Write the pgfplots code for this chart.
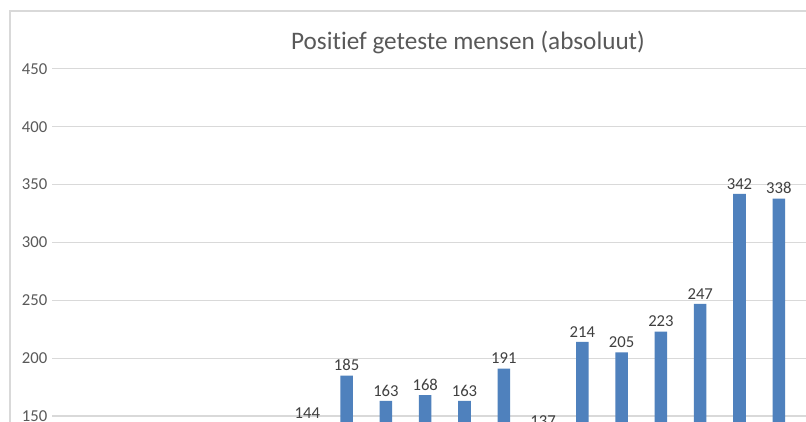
\documentclass[border=0pt]{standalone}
\usepackage{pgfplots}
\pgfplotsset{compat=1.18}
\usepackage{fontspec}
\setmainfont[Ligatures=NoCommon]{Carlito}
\definecolor{barblue}{HTML}{4F81BD}
\definecolor{gridgray}{HTML}{D9D9D9}
\definecolor{ticktext}{HTML}{595959}
\definecolor{labeltext}{HTML}{404040}
\begin{document}
\begin{tikzpicture}[x=0.75pt,y=0.75pt]
\clip (0,0) rectangle (806,421);
\fill[white] (0,0) rectangle (806,421);
\draw[gridgray, line width=0.8pt] (10,-50) -- (10,410) -- (900,410);
\node[font=\fontsize{18.9}{22}\selectfont, text=ticktext] at (468,379) {Positief geteste mensen (absoluut)};
\begin{axis}[
  at={(52pt*0.75,-168.5pt*0.75)}, anchor=south west,
  scale only axis,
  width=618.75pt, height=390.4pt,
  xmin=-0.5, xmax=20.5,
  ymin=0, ymax=450,
  ytick={0,50,...,450},
  xtick=\empty,
  ymajorgrids,
  grid style={gridgray, line width=0.8pt},
  axis line style={draw=none},
  major tick length=0pt,
  /pgf/number format/assume math mode=true,
  yticklabel style={font=\fontsize{12.5}{14}\selectfont, text=ticktext},
  ybar, bar width=9.4pt,
  nodes near coords,
  every node near coord/.append style={font=\fontsize{12.5}{14}\selectfont, text=labeltext},
  clip=false,
]
\addplot[fill=barblue, draw=none] coordinates {
  (6,144) (7,185) (8,163) (9,168) (10,163) (11,191) (12,137)
  (13,214) (14,205) (15,223) (16,247) (17,342) (18,338)
};
\end{axis}
\end{tikzpicture}
\end{document}
